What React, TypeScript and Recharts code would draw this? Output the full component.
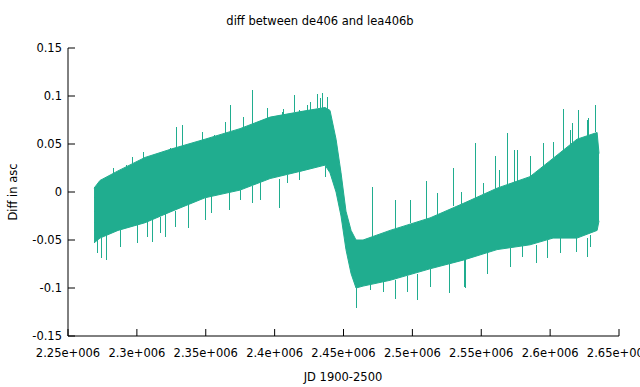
import { ComposedChart, Area, Line, XAxis, YAxis } from 'recharts'

const color = '#20ad8f'

// x axis ticks (julian date) and their gnuplot-style labels
const xTicks = [2250000, 2300000, 2350000, 2400000, 2450000, 2500000, 2550000, 2600000, 2650000]
const xTickLabels = ['2.25e+006', '2.3e+006', '2.35e+006', '2.4e+006', '2.45e+006', '2.5e+006', '2.55e+006', '2.6e+006', '2.65e+006']
const yTicks = [-0.15, -0.1, -0.05, 0, 0.05, 0.1, 0.15]
const yTickLabels = ['-0.15', '-0.1', '-0.05', '0', '0.05', '0.1', '0.15']

// dense band of the noisy diff: jd, lower edge, upper edge
const bandJd = [2268900, 2273200, 2286300, 2305900, 2325500, 2349500, 2374900, 2396700, 2419900, 2436600, 2440200, 2444600, 2448200, 2451800, 2455500, 2459100, 2464200, 2483800, 2512800, 2536800, 2561500, 2585400, 2602100, 2619500, 2634100, 2635500]
const bandLow = [-0.053, -0.048, -0.04, -0.032, -0.02, -0.006, 0.002, 0.014, 0.022, 0.028, 0.02, 0.0, -0.025, -0.06, -0.085, -0.1, -0.098, -0.092, -0.08, -0.071, -0.06, -0.055, -0.048, -0.048, -0.04, -0.03]
const bandHigh = [0.004, 0.012, 0.022, 0.036, 0.045, 0.055, 0.066, 0.078, 0.084, 0.088, 0.085, 0.055, 0.02, -0.02, -0.04, -0.05, -0.05, -0.04, -0.027, -0.012, 0.004, 0.016, 0.035, 0.055, 0.062, 0.04]

// single outliers sticking out of the band: jd, base, tip
const spikeJd = [
  2282700, 2292800, 2329100, 2332800, 2368300, 2383600, 2406100, 2414100, 2425700, 2430800, 2435100, 2438700,
  2289200, 2296500, 2304500, 2316800, 2324100, 2343700, 2348000, 2356700, 2364700, 2377100, 2394500, 2405400, 2418400, 2424200, 2433000,
  2471400, 2488100, 2509900, 2529500, 2545500, 2560700, 2568700, 2573800, 2594900, 2609400, 2615900, 2620300, 2627500, 2633300,
  2498300, 2517900, 2536000, 2551300, 2563600, 2576000, 2585400, 2602100, 2614500, 2626800,
  2271700, 2274000, 2278300, 2300100, 2311700, 2321100, 2337800, 2367600, 2390100, 2403200,
  2287800, 2307400, 2316800, 2327700, 2349500, 2354500, 2374900, 2383600, 2409000, 2418400, 2436600,
  2459800, 2487400, 2503400, 2526600, 2538900, 2589800, 2626800,
  2469300, 2478700, 2496100, 2512800, 2538200, 2554200, 2570900, 2580300, 2597800, 2607200, 2619500, 2629000,
]
const spikeBase = [
  0.018, 0.024, 0.046, 0.047, 0.064, 0.07, 0.08, 0.083, 0.085, 0.087, 0.088, 0.085,
  0.018, 0.026, 0.032, 0.036, 0.04, 0.048, 0.05, 0.055, 0.06, 0.065, 0.074, 0.078, 0.08, 0.082, 0.085,
  -0.048, -0.04, -0.028, -0.015, -0.006, 0.003, 0.006, 0.01, 0.025, 0.03, 0.045, 0.055, 0.058, 0.062,
  -0.032, -0.024, -0.013, -0.002, 0.005, 0.01, 0.016, 0.035, 0.048, 0.058,
  -0.046, -0.048, -0.045, -0.034, -0.028, -0.022, -0.014, 0.0, 0.01, 0.014,
  -0.04, -0.03, -0.026, -0.02, -0.006, -0.004, 0.002, 0.006, 0.018, 0.021, 0.027,
  -0.1, -0.092, -0.085, -0.075, -0.07, -0.055, -0.048,
  -0.096, -0.093, -0.088, -0.08, -0.07, -0.063, -0.058, -0.056, -0.05, -0.048, -0.048, -0.045,
]
const spikeTip = [
  0.025, 0.028, 0.068, 0.07, 0.091, 0.106, 0.086, 0.101, 0.094, 0.102, 0.103, 0.099,
  0.023, 0.036, 0.042, 0.041, 0.046, 0.051, 0.062, 0.059, 0.073, 0.078, 0.087, 0.083, 0.085, 0.091, 0.098,
  0.005, -0.008, 0.011, 0.025, 0.051, 0.037, 0.061, 0.044, 0.051, 0.086, 0.072, 0.085, 0.077, 0.091,
  -0.008, -0.001, 0.0, 0.009, 0.023, 0.044, 0.037, 0.052, 0.065, 0.075,
  -0.064, -0.069, -0.071, -0.053, -0.052, -0.047, -0.038, -0.019, -0.008, -0.017,
  -0.057, -0.047, -0.043, -0.036, -0.029, -0.022, -0.008, -0.011, 0.009, 0.0125, 0.016,
  -0.121, -0.111, -0.112, -0.105, -0.1, -0.074, -0.068,
  -0.102, -0.104, -0.104, -0.099, -0.099, -0.085, -0.078, -0.068, -0.069, -0.064, -0.062, -0.057,
]

const band = bandJd.map((jd, i) => ({ jd, range: [bandLow[i], bandHigh[i]] }))
const spikes = spikeJd.flatMap((jd, i) => [
  { jd, v: spikeBase[i] },
  { jd, v: spikeTip[i] },
  { jd, v: null },
])

const font = '"DejaVu Sans", sans-serif'
const fontSize = 11.5

function BottomTick({ x, y, index }: any) {
  return (
    <g>
      <line x1={x} y1={y} x2={x} y2={y - 7} stroke="#000" />
      <text x={x} y={y + 21} textAnchor="middle" fontFamily={font} fontSize={fontSize} fill="#000">{xTickLabels[index]}</text>
    </g>
  )
}

function TopTick({ x, y }: any) {
  return <line x1={x} y1={y} x2={x} y2={y + 7} stroke="#000" />
}

function LeftTick({ x, y, index }: any) {
  return (
    <g>
      <line x1={x} y1={y} x2={x + 7} y2={y} stroke="#000" />
      <text x={x - 6} y={y + 4} textAnchor="end" fontFamily={font} fontSize={fontSize} fill="#000">{yTickLabels[index]}</text>
    </g>
  )
}

function RightTick({ x, y }: any) {
  return <line x1={x} y1={y} x2={x - 7} y2={y} stroke="#000" />
}

export default function App() {
  return (
    <div style={{ position: 'absolute', left: 0, top: 0, width: 640, height: 387, background: '#fff', fontFamily: font, fontSize }}>
      <div style={{ position: 'absolute', left: 0, width: 640, top: 14, textAlign: 'center', color: '#000' }}>
        diff between de406 and lea406b
      </div>
      <div style={{ position: 'absolute', left: 0, width: 686, top: 370, textAlign: 'center', color: '#000' }}>
        JD 1900-2500
      </div>
      <div style={{ position: 'absolute', left: 13, top: 192, transform: 'translate(-50%, -50%) rotate(-90deg)', whiteSpace: 'nowrap', color: '#000' }}>
        Diff in asc
      </div>
      <ComposedChart width={640} height={387} margin={{ top: 48, right: 21, bottom: 0, left: 0 }} style={{ position: 'absolute', left: 0, top: 0 }}>
        <XAxis xAxisId={0} dataKey="jd" type="number" domain={[2250000, 2650000]} ticks={xTicks} allowDataOverflow
          height={51} tickSize={0} tickMargin={0} tickLine={false} axisLine={{ stroke: '#000' }} tick={<BottomTick />} interval={0} />
        <XAxis xAxisId="top" orientation="top" dataKey="jd" type="number" domain={[2250000, 2650000]} ticks={xTicks} allowDataOverflow
          height={0} tickSize={0} tickMargin={0} tickLine={false} axisLine={{ stroke: '#000' }} tick={<TopTick />} interval={0} />
        <YAxis yAxisId={0} type="number" domain={[-0.15, 0.15]} ticks={yTicks} allowDataOverflow
          width={68} tickSize={0} tickMargin={0} tickLine={false} axisLine={{ stroke: '#000' }} tick={<LeftTick />} interval={0} />
        <YAxis yAxisId="right" orientation="right" type="number" domain={[-0.15, 0.15]} ticks={yTicks} allowDataOverflow
          width={0} tickSize={0} tickMargin={0} tickLine={false} axisLine={{ stroke: '#000' }} tick={<RightTick />} interval={0} />
        <Area data={band} dataKey="range" type="linear" stroke={color} strokeWidth={1} fill={color} fillOpacity={1} isAnimationActive={false} />
        <Line data={spikes} dataKey="v" type="linear" stroke={color} strokeWidth={1} shapeRendering="crispEdges" dot={false} connectNulls={false} isAnimationActive={false} />
      </ComposedChart>
    </div>
  )
}
